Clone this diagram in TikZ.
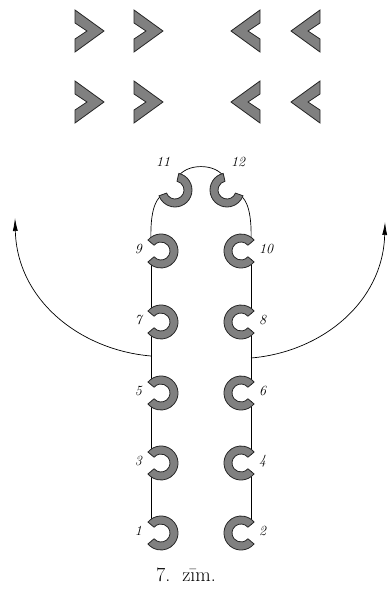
\documentclass[tikz,border=0pt]{standalone}
\usepackage{tikz}
\usetikzlibrary{arrows.meta}
\begin{document}
\begin{tikzpicture}[x=1pt,y=-1pt,
  shaded/.style={fill=black!50,draw=black!85,line width=0.8pt},
  num/.style={font=\fontsize{14}{16}\selectfont\itshape,inner sep=1pt},
  rchev/.pic={\filldraw[shaded] (0,-21) -- (29,0) -- (0,21) -- (0,8) -- (12,0) -- (0,-8) -- cycle;},
  lchev/.pic={\filldraw[shaded] (0,-21) -- (-29,0) -- (0,21) -- (0,8) -- (-12,0) -- (0,-8) -- cycle;},
  lhook/.pic={\filldraw[shaded] (-140:17) arc[start angle=-140,end angle=140,radius=17] -- (140:9) arc[start angle=140,end angle=-140,radius=9] -- cycle;},
  rhook/.pic={\filldraw[shaded] (40:17) arc[start angle=40,end angle=320,radius=17] -- (320:9) arc[start angle=320,end angle=40,radius=9] -- cycle;}]
 \useasboundingbox (0,0) rectangle (390,589);
 % chevrons
 \foreach \y in {31,102} {
  \pic at (75,\y) {rchev};
  \pic at (134,\y) {rchev};
  \pic at (260,\y) {lchev};
  \pic at (320,\y) {lchev};
 }
 % the two rows of hooks
 \foreach \a/\b in {533/463,463/393,393/322,322/251} {
  \draw[line width=0.7pt] (151,\a-8) -- (151,\b+8);
  \draw[line width=0.7pt] (251,\a-8) -- (251,\b+8);
 }
 \draw[line width=0.7pt] (151,243) .. controls (150,215) and (154,200) .. (162.8,194.4);
 \draw[line width=0.7pt] (251,243) .. controls (252,215) and (248,200) .. (239.2,194.4);
 \draw[line width=0.7pt] (177.9,177.3) .. controls (186,163) and (216,163) .. (224.1,177.3);
 \foreach \y in {533,463,393,322,251} {
  \pic at (161,\y) {lhook};
  \pic at (241,\y) {rhook};
 }
 \filldraw[shaded] (175,190) ++(-77:17) arc[start angle=-77,end angle=160,radius=17] -- ++(-20:8) arc[start angle=160,end angle=-77,radius=9] -- cycle;
 \filldraw[shaded] (227,190) ++(257:17) arc[start angle=257,end angle=20,radius=17] -- ++(200:8) arc[start angle=20,end angle=257,radius=9] -- cycle;
 % numbers
 \foreach \n/\y in {1/533,3/463,5/393,7/322,9/251}
  \node[num,anchor=east] (n\n) at (143,\y-2) {\n};
 \foreach \n/\y in {2/533,4/463,6/393,8/322,10/251}
  \node[num,anchor=west] (n\n) at (258,\y-2) {\n};
 \node[num] (n11) at (163,162) {11};
 \node[num] (n12) at (238,162) {12};
 % turning arrows
 \coordinate (lstart) at (151,356);
 \coordinate (ltip) at (15,218);
 \coordinate (rstart) at (251,358);
 \coordinate (rtip) at (385,222);
 \draw[line width=0.7pt,-{Latex[length=13pt,width=5pt]}] (lstart) .. controls (80,350) and (17,300) .. (ltip);
 \draw[line width=0.7pt,-{Latex[length=13pt,width=5pt]}] (rstart) .. controls (322,352) and (383,302) .. (rtip);
 \node[font=\fontsize{20}{24}\selectfont] (cap) at (186,575) {7.\ \ zīm.};
\end{tikzpicture}
\end{document}
